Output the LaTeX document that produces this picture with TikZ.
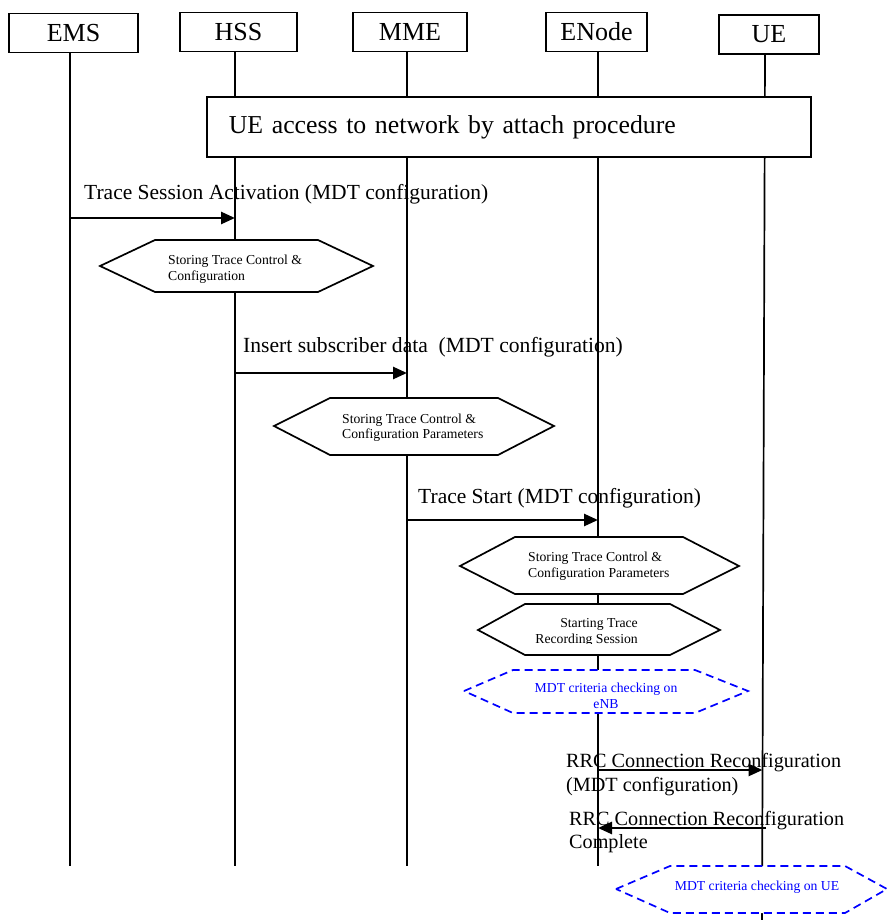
\documentclass[tikz,border=0pt]{standalone}
\usepackage{fontspec}
\setmainfont{Liberation Serif}
\usetikzlibrary{arrows.meta}
\begin{document}
\begin{tikzpicture}[x=1pt,y=-1pt,
  hdr/.style={draw, line width=1.7pt, fill=white, minimum height=39pt, inner sep=0pt,
    font=\fontsize{26}{30}\selectfont},
  life/.style={line width=1.7pt},
  msg/.style={line width=2.6pt, -{Triangle[length=14pt,width=12pt]}},
  lbl/.style={inner sep=0pt, anchor=base west, align=left, font=\fontsize{21.5}{24}\selectfont},
  hexbox/.style={draw, line width=1.7pt, fill=white},
  bluehex/.style={draw=blue, line width=1.7pt, dash pattern=on 8pt off 5pt, fill=white},
  hextxt/.style={inner sep=0pt, font=\fontsize{13.7}{15.5}\selectfont},
  bluetxt/.style={hextxt, text=blue, align=center}
]
\useasboundingbox (0,0) rectangle (888,920);

% header boxes
\node[hdr, minimum width=129pt] (ems) at (73.5,33) {EMS};
\node[hdr, minimum width=117pt] (hss) at (238.5,32) {HSS};
\node[hdr, minimum width=114pt] (mme) at (410,32) {MME};
\node[hdr, minimum width=101pt] (enb) at (596.5,32) {ENode};
\node[hdr, minimum width=100pt] (ue)  at (769,34.5) {UE};

% lifeline end points
\coordinate (emsEnd) at (70,866);
\coordinate (hssEnd) at (235,866);
\coordinate (mmeEnd) at (407,866);
\coordinate (enbEnd) at (598,866);
\coordinate (ueTop)  at (765,54);
\coordinate (ueEnd)  at (762,920);

\draw[life] (ems.south -| emsEnd) -- (emsEnd);
\draw[life] (hss.south -| hssEnd) -- (hssEnd);
\draw[life] (mme.south -| mmeEnd) -- (mmeEnd);
\draw[life] (enb.south -| enbEnd) -- (enbEnd);
\draw[life] (ueTop) -- (ueEnd);

% attach procedure box
\node[draw, line width=1.7pt, fill=white, anchor=west, minimum height=60pt,
  text width=560pt, inner xsep=22pt, align=left, font=\fontsize{25.8}{30}\selectfont]
  (attach) at (206,127) {UE access to network by attach procedure};

% message 1
\coordinate (m1s) at (70,218);
\coordinate (m1e) at (235,218);
\draw[msg] (m1s) -- (m1e);
\node[lbl] (l1) at (84,200) {Trace Session Activation (MDT configuration)};

% hexagon 1
\draw[hexbox] (100,266) -- (155,240) -- (318,240) -- (373,266) -- (318,292) -- (155,292) -- cycle;
\node[hextxt, align=left, anchor=base west] (h1) at (168,280) {Storing Trace Control \&\\Configuration};

% message 2
\coordinate (m2s) at (235,373);
\coordinate (m2e) at (407,373);
\draw[msg] (m2s) -- (m2e);
\node[lbl, font=\fontsize{21.6}{24}\selectfont] (l2) at (243,352) {Insert subscriber data\ \ (MDT configuration)};

% hexagon 2
\draw[hexbox] (274,426) -- (330,398) -- (498,398) -- (554,426) -- (498,455) -- (330,455) -- cycle;
\node[hextxt, align=left, anchor=base west] (h2) at (342,438.5) {Storing Trace Control \&\\Configuration Parameters};

% message 3
\coordinate (m3s) at (407,520);
\coordinate (m3e) at (598,520);
\draw[msg] (m3s) -- (m3e);
\node[lbl] (l3) at (418,503) {Trace Start (MDT configuration)};

% hexagon 3
\draw[hexbox] (460,566) -- (515,537) -- (683,537) -- (739,566) -- (683,594) -- (515,594) -- cycle;
\node[hextxt, align=left, anchor=base west] (h3) at (528,577) {Storing Trace Control \&\\Configuration Parameters};

% hexagon 4
\draw[hexbox] (478,630) -- (525,604) -- (670,604) -- (720,630) -- (670,655) -- (525,655) -- cycle;
\begin{scope}
  \clip (480,605) rectangle (718,643.5);
  \node[hextxt, align=right, anchor=base east] (h4) at (638,643) {Starting Trace\\Recording Session};
\end{scope}

% hexagon 5 (dashed blue)
\draw[bluehex] (464,691) -- (513,670) -- (695,670) -- (748,691) -- (695,713) -- (513,713) -- cycle;
\node[bluetxt, anchor=base] (h5) at (606,708) {MDT criteria checking on\\eNB};

% message 4
\coordinate (m4s) at (598,770);
\coordinate (m4e) at (762.5,770);
\draw[msg] (m4s) -- (m4e);
\node[lbl, font=\fontsize{20.2}{24}\selectfont] (l4) at (566,791) {RRC Connection Reconfiguration\\(MDT configuration)};

% message 5
\coordinate (m5s) at (766,828);
\coordinate (m5e) at (598,828);
\draw[msg] (m5s) -- (m5e);
\node[lbl, font=\fontsize{20.2}{23}\selectfont] (l5) at (569,848) {RRC Connection Reconfiguration\\Complete};

% hexagon 6 (dashed blue)
\draw[bluehex] (616,889) -- (670,866) -- (845,866) -- (887,889) -- (845,913) -- (670,913) -- cycle;
\node[bluetxt, anchor=base] (h6) at (757,890) {MDT criteria checking on UE};
\end{tikzpicture}
\end{document}
